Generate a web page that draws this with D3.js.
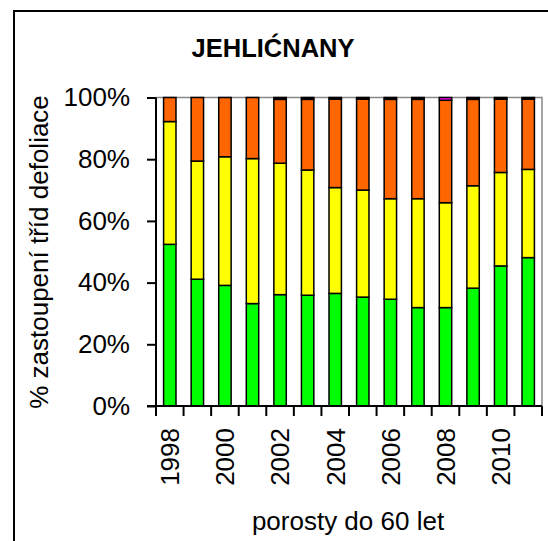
<!DOCTYPE html>
<html><head><meta charset="utf-8">
<script src="https://cdn.jsdelivr.net/npm/d3@7/dist/d3.min.js"></script>
<style>
html,body{margin:0;padding:0;background:#fff;}
text{font-family:"Liberation Sans",Arial,sans-serif;fill:#000;}
</style></head>
<body>
<svg id="chart" width="548" height="541"></svg>
<script>
const years = [1998,1999,2000,2001,2002,2003,2004,2005,2006,2007,2008,2009,2010,2011];
const class0 = [52.4,41.1,39.1,33.2,36.1,35.9,36.5,35.3,34.6,31.9,31.9,38.2,45.4,48.1];
const class1 = [39.8,38.3,41.7,47.0,42.6,40.6,34.3,34.7,32.6,35.3,34.0,33.2,30.3,28.6];
const class2 = [7.8,20.6,19.2,19.8,20.7,22.9,28.7,29.5,32.2,32.2,33.2,28.0,23.8,22.8];
const class3 = [0,0,0,0,0.6,0.6,0.5,0.5,0.6,0.6,0,0.6,0.5,0.5];
const class4 = [0,0,0,0,0,0,0,0,0,0,0.9,0,0,0];
const yTicks = [0,20,40,60,80,100];
const xLabelYears = [1998,2000,2002,2004,2006,2008,2010];
const seriesKeys = ["c0","c1","c2","c3","c4"];
const seriesColors = ["#00FF00","#FFFF00","#FF6600","#000000","#FF00FF"];
const titleText = "JEHLIĆNANY";
const yTitle = "% zastoupení tříd defoliace";
const xTitle = "porosty do 60 let";

const svg = d3.select("#chart");
const pLeft = 156, pRight = 542, pTop = 97.5, pBottom = 406;

// outer frame
svg.append("rect").attr("x",14).attr("y",11).attr("width",560).attr("height",560)
  .attr("fill","none").attr("stroke","#000").attr("stroke-width",2);

const x = d3.scaleBand().domain(years).range([pLeft,pRight]).paddingInner(0.55).paddingOuter(0.275);
const xb = d3.scaleBand().domain(years).range([pLeft,pRight]);
const y = d3.scaleLinear().domain([0,100]).range([pBottom,pTop]);

const rows = years.map((yr,i)=>({year:yr,c0:class0[i],c1:class1[i],c2:class2[i],c3:class3[i],c4:class4[i]}));
const stack = d3.stack().keys(seriesKeys)(rows);

// plot area border (top/right)
svg.append("path").attr("d",`M${pLeft},${pTop}H${pRight}V${pBottom}`)
  .attr("fill","none").attr("stroke","#888").attr("stroke-width",1.5);

stack.forEach((s,si)=>{
  svg.append("g").selectAll("rect").data(s.filter(d=>d[1]-d[0]>0)).join("rect")
    .attr("x",d=>x(d.data.year))
    .attr("width",x.bandwidth())
    .attr("y",d=>y(d[1]))
    .attr("height",d=>y(d[0])-y(d[1]))
    .attr("fill",seriesColors[si])
    .attr("stroke","#000").attr("stroke-width",1.5);
});

// y axis
const yAxis = svg.append("g").attr("transform",`translate(${pLeft},0)`)
  .call(d3.axisLeft(y).tickValues(yTicks).tickSize(9).tickFormat(d=>d+"%").tickPadding(17));
yAxis.select(".domain").attr("stroke","#000").attr("stroke-width",2).attr("d",`M0,${pTop}V${pBottom}`);
yAxis.selectAll(".tick line").attr("stroke","#000").attr("stroke-width",2);
yAxis.selectAll("text").attr("font-size",26).style("font-family","Liberation Sans, Arial, sans-serif");

// x axis
const xAxisG = svg.append("g").attr("transform",`translate(0,${pBottom})`);
xAxisG.append("line").attr("x1",pLeft-9).attr("x2",pRight).attr("y1",0).attr("y2",0)
  .attr("stroke","#000").attr("stroke-width",2);
xAxisG.selectAll("line.tk").data(years.concat(["end"])).join("line").attr("class","tk")
  .attr("x1",d=>d==="end"?pRight:xb(d)).attr("x2",d=>d==="end"?pRight:xb(d))
  .attr("y1",0).attr("y2",10).attr("stroke","#000").attr("stroke-width",2);
xAxisG.selectAll("text").data(xLabelYears).join("text")
  .attr("transform",d=>`translate(${x(d)+x.bandwidth()/2},22) rotate(-90)`)
  .attr("text-anchor","end").attr("dy","0.36em").attr("font-size",26).text(d=>d);

// titles
svg.append("text").attr("x",273).attr("y",57).attr("text-anchor","middle")
  .attr("font-size",25.5).attr("font-weight","bold").text(titleText);
svg.append("text").attr("transform",`translate(39,252) rotate(-90)`)
  .attr("text-anchor","middle").attr("dy","0.36em").attr("font-size",26).text(yTitle);
svg.append("text").attr("x",348).attr("y",530).attr("text-anchor","middle")
  .attr("font-size",26).text(xTitle);
</script>
</body></html>
